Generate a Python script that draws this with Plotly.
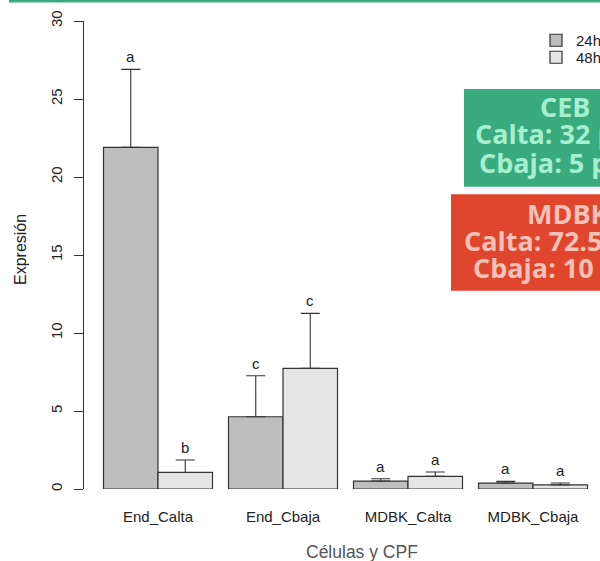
import plotly.graph_objects as go

categories = ["End_Calta", "End_Cbaja", "MDBK_Calta", "MDBK_Cbaja"]
mean_24h = [21.9, 4.63, 0.51, 0.38]
se_24h = [5.0, 2.63, 0.15, 0.11]
mean_48h = [1.06, 7.73, 0.81, 0.26]
se_48h = [0.80, 3.53, 0.28, 0.12]
letters_24h = ["a", "c", "a", "a"]
letters_48h = ["b", "c", "a", "a"]
series_names = ["24h", "48h"]
y_ticks = [0, 5, 10, 15, 20, 25, 30]

ceb_lines = ["CEB", "Calta: 32 p", "Cbaja: 5 p"]
mdbk_lines = ["MDBK", "Calta: 72.5", "Cbaja: 10"]

W, H = 600, 561
ML, MR, MT, MB = 84, 0, 21, 72
PW = W - ML - MR
PH = H - MT - MB

def px_x(p):
    return (p - ML) / PW

def px_y(p):
    return 1 - (p - MT) / PH

fig = go.Figure()
colors = ["#bebebe", "#e5e5e5"]
legends = ["legend", "legend2"]
for name, means, ses, col, lg in zip(series_names, [mean_24h, mean_48h], [se_24h, se_48h], colors, legends):
    fig.add_trace(go.Bar(
        x=categories, y=means, name=name, legend=lg,
        marker=dict(color=col, line=dict(color="#333333", width=1.2)),
        error_y=dict(type="data", array=ses, arrayminus=[0] * len(ses), symmetric=False,
                     color="#333333", thickness=1.1, width=9.5),
    ))

# significance letters
for letters, means, ses, shift in [(letters_24h, mean_24h, se_24h, -27.25), (letters_48h, mean_48h, se_48h, 27.25)]:
    for c, l, m, s in zip(categories, letters, means, ses):
        fig.add_annotation(x=c, y=m + s, text=l, showarrow=False, xshift=shift,
                           yanchor="bottom", yshift=2,
                           font=dict(family="Liberation Sans, Arial", size=15, color="#222222"))

# x-axis title (as text)
fig.add_annotation(xref="paper", yref="paper", x=px_x(361.5), y=px_y(552), text="Células y CPF",
                   xanchor="center", yanchor="middle",
                   showarrow=False, font=dict(family="Liberation Sans, Arial", size=17.5, color="#555555"))
# y-axis title
fig.add_annotation(xref="paper", yref="paper", x=px_x(20), y=px_y(250), text="Expresión",
                   xanchor="center", yanchor="middle",
                   textangle=-90, showarrow=False,
                   font=dict(family="Liberation Sans, Arial", size=16, color="#222222"))

shapes = []
# top green line
shapes.append(dict(type="rect", xref="paper", yref="paper", x0=px_x(9), x1=px_x(600),
                   y0=px_y(0), y1=px_y(2.5), fillcolor="#3aab7e", line=dict(width=0), layer="above"))
# green box
shapes.append(dict(type="rect", xref="paper", yref="paper", x0=px_x(464), x1=px_x(600),
                   y0=px_y(89), y1=px_y(186.7), fillcolor="#3aab7e", line=dict(width=0), layer="above"))
# red box
shapes.append(dict(type="rect", xref="paper", yref="paper", x0=px_x(451), x1=px_x(600),
                   y0=px_y(194.3), y1=px_y(290.7), fillcolor="#e0452d", line=dict(width=0), layer="above"))
fig.update_layout(shapes=shapes)

box_font = "Open Sans, Lato, sans-serif"
for line, xl, yb in zip(ceb_lines, [537.7, 472.7, 476.7], [117.3, 143.5, 173]):
    fig.add_annotation(xref="paper", yref="paper", x=px_x(xl), y=px_y(yb), text="<b>%s</b>" % line,
                       xanchor="left", yanchor="bottom", yshift=-10, showarrow=False,
                       font=dict(family=box_font, size=27, color="#a6efcf"))
for line, xl, yb in zip(mdbk_lines, [525, 461.7, 470.7], [224, 250.7, 278.3]):
    fig.add_annotation(xref="paper", yref="paper", x=px_x(xl), y=px_y(yb), text="<b>%s</b>" % line,
                       xanchor="left", yanchor="bottom", yshift=-10, showarrow=False,
                       font=dict(family=box_font, size=27, color="#f6c2b7"))

grp_px = 125.0
left_val = 0 - (158 - ML) / grp_px
leg_common = dict(xanchor="left", yanchor="top", bgcolor="rgba(255,255,255,0)",
                  font=dict(size=15, color="#222222"), tracegroupgap=0)
fig.update_layout(
    width=W, height=H,
    margin=dict(l=ML, r=MR, t=MT, b=MB, pad=0, autoexpand=False),
    plot_bgcolor="white", paper_bgcolor="white",
    barmode="group", bargap=0.128, bargroupgap=0,
    font=dict(family="Liberation Sans, Arial", size=15, color="#222222"),
    xaxis=dict(type="category", range=[left_val, left_val + PW / grp_px], showline=False,
               showgrid=False, ticks="", ticklabelstandoff=17, automargin=False,
               tickfont=dict(size=15, color="#222222")),
    yaxis=dict(range=[0, 30], tickvals=y_ticks, showline=True, linecolor="#333333", linewidth=1.2,
               ticks="outside", ticklen=9, tickcolor="#333333", tickwidth=1.2, tickangle=-90,
               showgrid=False, zeroline=False, ticklabelstandoff=6, automargin=False,
               tickfont=dict(size=15, color="#222222")),
    legend=dict(x=px_x(536), y=px_y(24), **leg_common),
    legend2=dict(x=px_x(536), y=px_y(41), **leg_common),
    showlegend=True,
)

fig.write_html("out.html", post_script="document.body.style.margin='0';",
               config={"displayModeBar": False})
